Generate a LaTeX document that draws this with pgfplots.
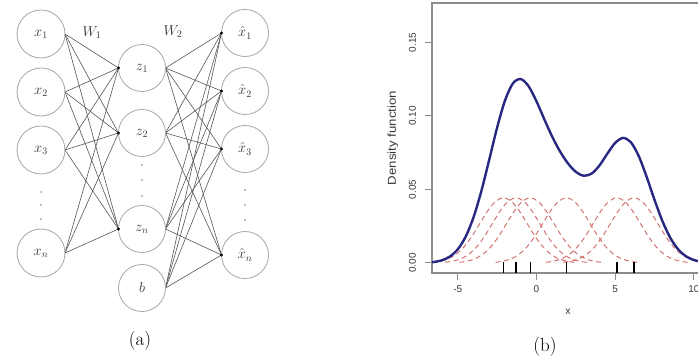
\documentclass[border=0pt]{standalone}
\usepackage{fontspec}
\usepackage{pgfplots}
\pgfplotsset{compat=1.18}
\newfontfamily\rsans{Liberation Sans}
\definecolor{kde}{RGB}{40,40,130}
\definecolor{kern}{RGB}{210,115,115}
\definecolor{axgray}{RGB}{140,140,140}
\definecolor{edgec}{RGB}{85,85,85}
\definecolor{circ}{RGB}{165,165,165}
\begin{document}
\begin{tikzpicture}[x=1pt,y=1pt]
\useasboundingbox (0,0) rectangle (698,361);
\clip (0,0) rectangle (698,361);
% ---------- (a) autoencoder diagram ----------
\foreach \a in {327,269,211,108}
  \foreach \b in {293,228,132}
    \draw[edgec, line width=0.6pt] (65,\a) -- (118.5,\b);
\foreach \a in {293,228,132,73}
  \foreach \b in {328,270,212,106}
    \draw[edgec, line width=0.6pt] (165.5,\a) -- (221.5,\b);
\foreach \y in {327,269,211,108} \draw[circ, line width=0.8pt] (41,\y) circle (24);
\foreach \y in {293,228,132,73} \draw[circ, line width=0.8pt] (142,\y) circle (23.5);
\foreach \y in {328,270,212,106} \draw[circ, line width=0.8pt] (245,\y) circle (23.5);
\foreach \y in {293,228,132} \fill[black] (118.5,\y) circle (1.7);
\foreach \y in {328,270,212,106} \fill[black] (221.5,\y) circle (1.7);
\foreach \y in {169,156,142} \fill[gray] (41,\y) circle (0.8);
\foreach \y in {196,181,165} \fill[gray] (142,\y) circle (0.8);
\foreach \y in {171,156,141} \fill[gray] (245,\y) circle (0.8);
\begin{scope}[every node/.style={font=\fontsize{14}{14}\selectfont, text=black!80}]
\node at (41,327) {$x_1$};
\node at (41,269) {$x_2$};
\node at (41,211) {$x_3$};
\node at (41,108) {$x_n$};
\node at (142,293) {$z_1$};
\node at (142,228) {$z_2$};
\node at (142,132) {$z_n$};
\node at (142,73) {$b$};
\node at (245,328) {$\hat{x}_1$};
\node at (245,270) {$\hat{x}_2$};
\node at (245,212) {$\hat{x}_3$};
\node at (245,106) {$\hat{x}_n$};
\node at (92,328) {$W_1$};
\node at (173,329) {$W_2$};
\end{scope}
\node[font=\fontsize{19}{19}\selectfont] at (140,20) {(a)};
\node[font=\fontsize{19}{19}\selectfont] at (545,14) {(b)};
% ---------- (b) kernel density estimate ----------
\begin{axis}[
  at={(432pt,88pt)}, anchor=south west,
  scale only axis, width=272pt, height=270pt,
  xmin=-6.64, xmax=10.64, ymin=-0.0068, ymax=0.1768,
  axis line style={axgray, line width=1.1pt},
  tick style={axgray, line width=1pt},
  tick align=outside, major tick length=7pt, tick pos=left,
  xtick={-5,0,5,10}, ytick={0,0.05,0.1,0.15},
  /pgf/number format/assume math mode=true,
  yticklabel={\pgfmathprintnumber[fixed,fixed zerofill,precision=2]{\tick}},
  ticklabel style={font=\rsans\fontsize{10}{10}\selectfont, text=black!78},
  xticklabel style={yshift=-2pt},
  yticklabel style={xshift=-5.5pt, rotate=90, anchor=south},
  xlabel={x}, ylabel={\scalebox{1.15}[1]{Density function}},
  xlabel style={at={(axis description cs:0.5,-0.1444)}, anchor=center, font=\rsans\fontsize{10.5}{10.5}\selectfont, text=black!78},
  ylabel style={at={(axis description cs:-0.1434,0.5)}, anchor=center, font=\rsans\fontsize{11.5}{11.5}\selectfont, text=black!78},
]
% individual kernels (h = 1.5, weight 1/6)
\addplot[kern, line width=1pt, smooth, dash pattern=on 5pt off 3.5pt] coordinates {
(-6.6,0.00049) (-6.1,0.00127) (-5.6,0.00291) (-5.1,0.00600) (-4.6,0.01105) (-4.1,0.01822) (-3.6,0.02689) (-3.1,0.03550) (-2.6,0.04193) (-2.1,0.04433) (-1.6,0.04193) (-1.1,0.03550) (-0.6,0.02689) (-0.1,0.01822) (0.4,0.01105) (0.9,0.00600) (1.4,0.00291) (1.9,0.00127) (2.4,0.00049)};
\addplot[kern, line width=1pt, smooth, dash pattern=on 5pt off 3.5pt] coordinates {
(-5.8,0.00049) (-5.3,0.00127) (-4.8,0.00291) (-4.3,0.00600) (-3.8,0.01105) (-3.3,0.01822) (-2.8,0.02689) (-2.3,0.03550) (-1.8,0.04193) (-1.3,0.04433) (-0.8,0.04193) (-0.3,0.03550) (0.2,0.02689) (0.7,0.01822) (1.2,0.01105) (1.7,0.00600) (2.2,0.00291) (2.7,0.00127) (3.2,0.00049)};
\addplot[kern, line width=1pt, smooth, dash pattern=on 5pt off 3.5pt] coordinates {
(-4.9,0.00049) (-4.4,0.00127) (-3.9,0.00291) (-3.4,0.00600) (-2.9,0.01105) (-2.4,0.01822) (-1.9,0.02689) (-1.4,0.03550) (-0.9,0.04193) (-0.4,0.04433) (0.1,0.04193) (0.6,0.03550) (1.1,0.02689) (1.6,0.01822) (2.1,0.01105) (2.6,0.00600) (3.1,0.00291) (3.6,0.00127) (4.1,0.00049)};
\addplot[kern, line width=1pt, smooth, dash pattern=on 5pt off 3.5pt] coordinates {
(-2.6,0.00049) (-2.1,0.00127) (-1.6,0.00291) (-1.1,0.00600) (-0.6,0.01105) (-0.1,0.01822) (0.4,0.02689) (0.9,0.03550) (1.4,0.04193) (1.9,0.04433) (2.4,0.04193) (2.9,0.03550) (3.4,0.02689) (3.9,0.01822) (4.4,0.01105) (4.9,0.00600) (5.4,0.00291) (5.9,0.00127) (6.4,0.00049)};
\addplot[kern, line width=1pt, smooth, dash pattern=on 5pt off 3.5pt] coordinates {
(0.6,0.00049) (1.1,0.00127) (1.6,0.00291) (2.1,0.00600) (2.6,0.01105) (3.1,0.01822) (3.6,0.02689) (4.1,0.03550) (4.6,0.04193) (5.1,0.04433) (5.6,0.04193) (6.1,0.03550) (6.6,0.02689) (7.1,0.01822) (7.6,0.01105) (8.1,0.00600) (8.6,0.00291) (9.1,0.00127) (9.6,0.00049)};
\addplot[kern, line width=1pt, smooth, dash pattern=on 5pt off 3.5pt] coordinates {
(1.7,0.00049) (2.2,0.00127) (2.7,0.00291) (3.2,0.00600) (3.7,0.01105) (4.2,0.01822) (4.7,0.02689) (5.2,0.03550) (5.7,0.04193) (6.2,0.04433) (6.7,0.04193) (7.2,0.03550) (7.7,0.02689) (8.2,0.01822) (8.7,0.01105) (9.2,0.00600) (9.7,0.00291) (10.2,0.00127) (10.7,0.00049)};
% kernel density estimate
\addplot[kde, line width=2.4pt, smooth] coordinates {
(-7,0.00024) (-6.5,0.00072) (-6,0.00188) (-5.5,0.00442) (-5,0.00936) (-4.5,0.01794) (-4,0.03115) (-3.5,0.04911) (-3,0.07043) (-2.5,0.09221) (-2,0.11060) (-1.5,0.12214) (-1,0.12510) (-0.5,0.12015) (0,0.10989) (0.5,0.09759) (1,0.08580) (1.5,0.07572) (2,0.06768) (2.5,0.06194) (3,0.05934) (3.5,0.06079) (4,0.06634) (4.5,0.07435) (5,0.08173) (5.5,0.08505) (6,0.08204) (6.5,0.07253) (7,0.05846) (7.5,0.04282) (8,0.02843) (8.5,0.01708) (9,0.00927) (9.5,0.00454) (10,0.00200) (10.5,0.00080) (11,0.00029)};
% rug of the six observations
\addplot[only marks, mark=|, mark size=5.5pt, mark options={black, line width=1.4pt}] coordinates {
(-2.1,-0.00305) (-1.3,-0.00305) (-0.4,-0.00305) (1.9,-0.00305) (5.1,-0.00305) (6.2,-0.00305)};
\end{axis}
\end{tikzpicture}
\end{document}
